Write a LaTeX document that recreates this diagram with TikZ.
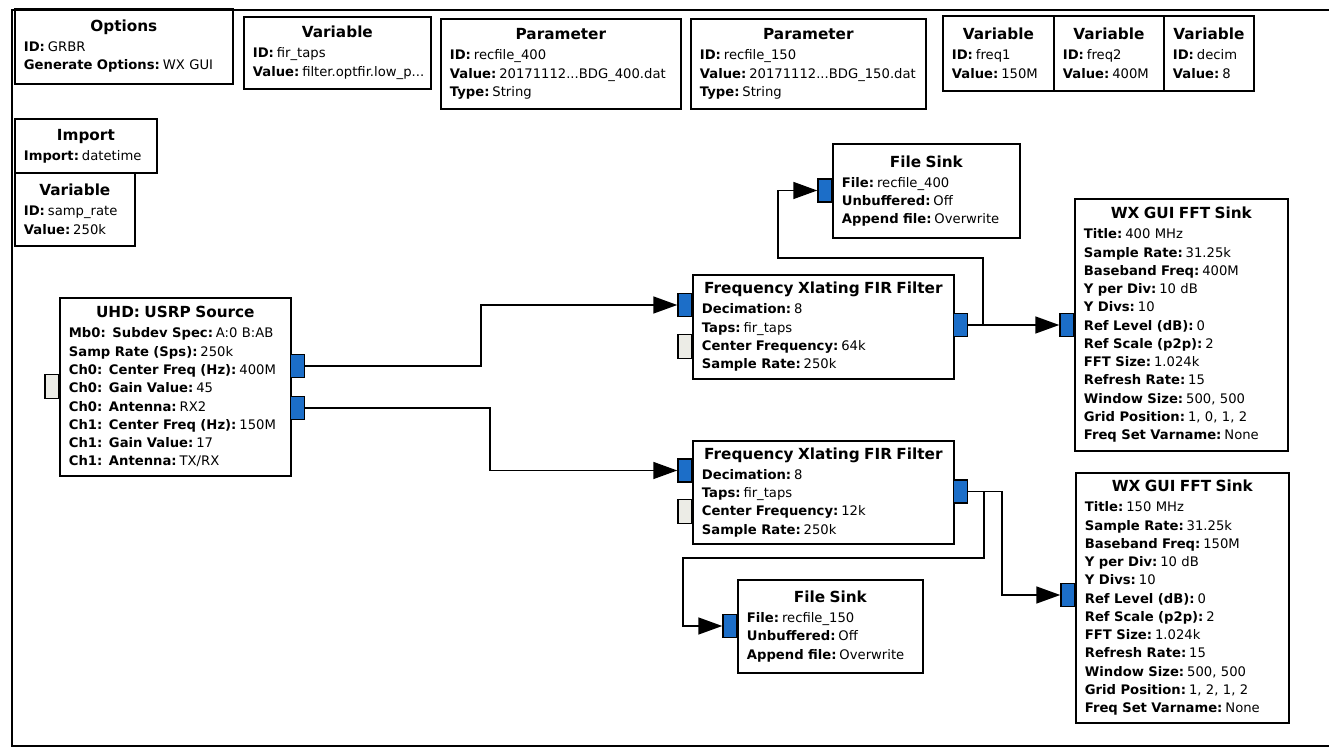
\documentclass[tikz,border=0pt]{standalone}
\usepackage{fontspec}
\setmainfont{DejaVu Sans}
\usepackage{tikz}
\usetikzlibrary{positioning, arrows.meta, calc}

\newcommand{\blkttl}[1]{\makebox[\hsize]{\fontsize{8.7}{10}\selectfont\bfseries #1}\\[1pt]}
\newcommand{\prm}[2]{\mbox{\textbf{#1:}\hspace{0.22em}#2}}

\begin{document}
\begin{tikzpicture}[x=0.02cm, y=-0.02cm,
    blk/.style={draw, rectangle, line width=1pt, anchor=north west, align=left,
                inner xsep=0.18cm, inner ysep=0pt, font=\fontsize{7.5}{10.4}\selectfont},
    port/.style={draw, rectangle, line width=0.7pt, minimum width=0.27cm,
                 minimum height=0.46cm, inner sep=0pt, fill=portC},
    msg/.style={port, fill=msgC, minimum height=0.48cm},
    wire/.style={line width=0.9pt, -{Triangle[length=0.48cm, width=0.34cm]}},
]

% Color definitions
\definecolor{portC}{RGB}{28,110,200}
\definecolor{msgC}{RGB}{236,236,230}

\useasboundingbox (0,0) rectangle (1329,749);

% Canvas frame
\draw[line width=1.6pt] (1329,10) -- (12,10) -- (12,746) -- (1329,746);

% Top row: options, variables, parameters
\node[blk, text width=4.00cm, minimum height=1.50cm] (options) at (14,8)
  {\blkttl{Options}\prm{ID}{GRBR}\\\prm{Generate Options}{WX GUI}};
\node[blk, text width=3.38cm, minimum height=1.44cm] (firtaps) at (243,16)
  {\blkttl{Variable}\prm{ID}{fir\_taps}\\\prm{Value}{filter.optfir.low\_p...}};
\node[blk, text width=4.44cm, minimum height=1.80cm] (recfile400) at (440,18)
  {\blkttl{Parameter}\prm{ID}{recfile\_400}\\\prm{Value}{20171112...BDG\_400.dat}\\\prm{Type}{String}};
\node[blk, text width=4.34cm, minimum height=1.80cm] (recfile150) at (690,18)
  {\blkttl{Parameter}\prm{ID}{recfile\_150}\\\prm{Value}{20171112...BDG\_150.dat}\\\prm{Type}{String}};
\node[blk, text width=1.86cm, minimum height=1.50cm] (freq1) at (942,15)
  {\blkttl{Variable}\prm{ID}{freq1}\\\prm{Value}{150M}};
\node[blk, text width=1.84cm, minimum height=1.50cm] (freq2) at (1053,15)
  {\blkttl{Variable}\prm{ID}{freq2}\\\prm{Value}{400M}};
\node[blk, text width=1.44cm, minimum height=1.50cm] (decim) at (1163,15)
  {\blkttl{Variable}\prm{ID}{decim}\\\prm{Value}{8}};

% Left column
\node[blk, text width=2.48cm, minimum height=1.08cm] (imports) at (14,118)
  {\blkttl{Import}\prm{Import}{datetime}};
\node[blk, text width=2.04cm, minimum height=1.46cm] (samprate) at (14,172)
  {\blkttl{Variable}\prm{ID}{samp\_rate}\\\prm{Value}{250k}};

% Source
\node[blk, text width=4.26cm, minimum height=3.56cm] (uhd) at (59,297)
  {\blkttl{UHD: USRP Source}\prm{Mb0: Subdev Spec}{A:0 B:AB}\\
   \prm{Samp Rate (Sps)}{250k}\\\prm{Ch0: Center Freq (Hz)}{400M}\\
   \prm{Ch0: Gain Value}{45}\\\prm{Ch0: Antenna}{RX2}\\
   \prm{Ch1: Center Freq (Hz)}{150M}\\\prm{Ch1: Gain Value}{17}\\
   \prm{Ch1: Antenna}{TX/RX}};

% Filters
\node[blk, text width=4.86cm, minimum height=2.08cm] (filt1) at (692,274)
  {\blkttl{Frequency Xlating FIR Filter}\prm{Decimation}{8}\\\prm{Taps}{fir\_taps}\\
   \prm{Center Frequency}{64k}\\\prm{Sample Rate}{250k}};
\node[blk, text width=4.86cm, minimum height=2.06cm] (filt2) at (692,440)
  {\blkttl{Frequency Xlating FIR Filter}\prm{Decimation}{8}\\\prm{Taps}{fir\_taps}\\
   \prm{Center Frequency}{12k}\\\prm{Sample Rate}{250k}};

% Sinks
\node[blk, text width=3.38cm, minimum height=1.88cm] (fsink1) at (832,143)
  {\blkttl{File Sink}\prm{File}{recfile\_400}\\\prm{Unbuffered}{Off}\\\prm{Append file}{Overwrite}};
\node[blk, text width=3.34cm, minimum height=1.86cm] (fsink2) at (737,579)
  {\blkttl{File Sink}\prm{File}{recfile\_150}\\\prm{Unbuffered}{Off}\\\prm{Append file}{Overwrite}};
\node[blk, text width=3.90cm, minimum height=5.04cm] (fft1) at (1074,198)
  {\blkttl{WX GUI FFT Sink}\prm{Title}{400 MHz}\\\prm{Sample Rate}{31.25k}\\
   \prm{Baseband Freq}{400M}\\\prm{Y per Div}{10 dB}\\\prm{Y Divs}{10}\\
   \prm{Ref Level (dB)}{0}\\\prm{Ref Scale (p2p)}{2}\\\prm{FFT Size}{1.024k}\\
   \prm{Refresh Rate}{15}\\\prm{Window Size}{500, 500}\\
   \prm{Grid Position}{1, 0, 1, 2}\\\prm{Freq Set Varname}{None}};
\node[blk, text width=3.90cm, minimum height=5.00cm] (fft2) at (1075,472)
  {\blkttl{WX GUI FFT Sink}\prm{Title}{150 MHz}\\\prm{Sample Rate}{31.25k}\\
   \prm{Baseband Freq}{150M}\\\prm{Y per Div}{10 dB}\\\prm{Y Divs}{10}\\
   \prm{Ref Level (dB)}{0}\\\prm{Ref Scale (p2p)}{2}\\\prm{FFT Size}{1.024k}\\
   \prm{Refresh Rate}{15}\\\prm{Window Size}{500, 500}\\
   \prm{Grid Position}{1, 2, 1, 2}\\\prm{Freq Set Varname}{None}};

% Ports
\node[msg, anchor=east] (uhdmsg) at (uhd.west) {};
\node[port, anchor=west] (uhdout0) at (290,366) {};
\node[port, anchor=west] (uhdout1) at (290,408) {};
\node[port, anchor=east] (f1in) at (692,305) {};
\node[msg, anchor=east] (f1msg) at (692,346.5) {};
\node[port, anchor=west] (f1out) at (953,325) {};
\node[port, anchor=east] (f2in) at (692,470.5) {};
\node[msg, anchor=east] (f2msg) at (692,511.5) {};
\node[port, anchor=west] (f2out) at (953,491.5) {};
\node[port, anchor=east] (fs1in) at (832,190.5) {};
\node[port, anchor=east] (fs2in) at (737,626) {};
\node[port, anchor=east] (fft1in) at (1074,325) {};
\node[port, anchor=east] (fft2in) at (1075,595) {};

% Connections
\coordinate (split1) at ($(f1out.east)+(15,0)$);
\coordinate (split2) at ($(f2out.east)+(16,0)$);
\draw[wire] (uhdout0.east) -- ++(176,0) |- (f1in.west);
\draw[wire] (uhdout1.east) -- ++(185,0) |- (f2in.west);
\draw[wire] (f1out.east) -- (fft1in.west);
\draw[wire] (split1) |- (778,258) |- (fs1in.west);
\draw[wire] (f2out.east) -- ++(34,0) |- (fft2in.west);
\draw[wire] (split2) |- (683,558) |- (fs2in.west);

\end{tikzpicture}
\end{document}
